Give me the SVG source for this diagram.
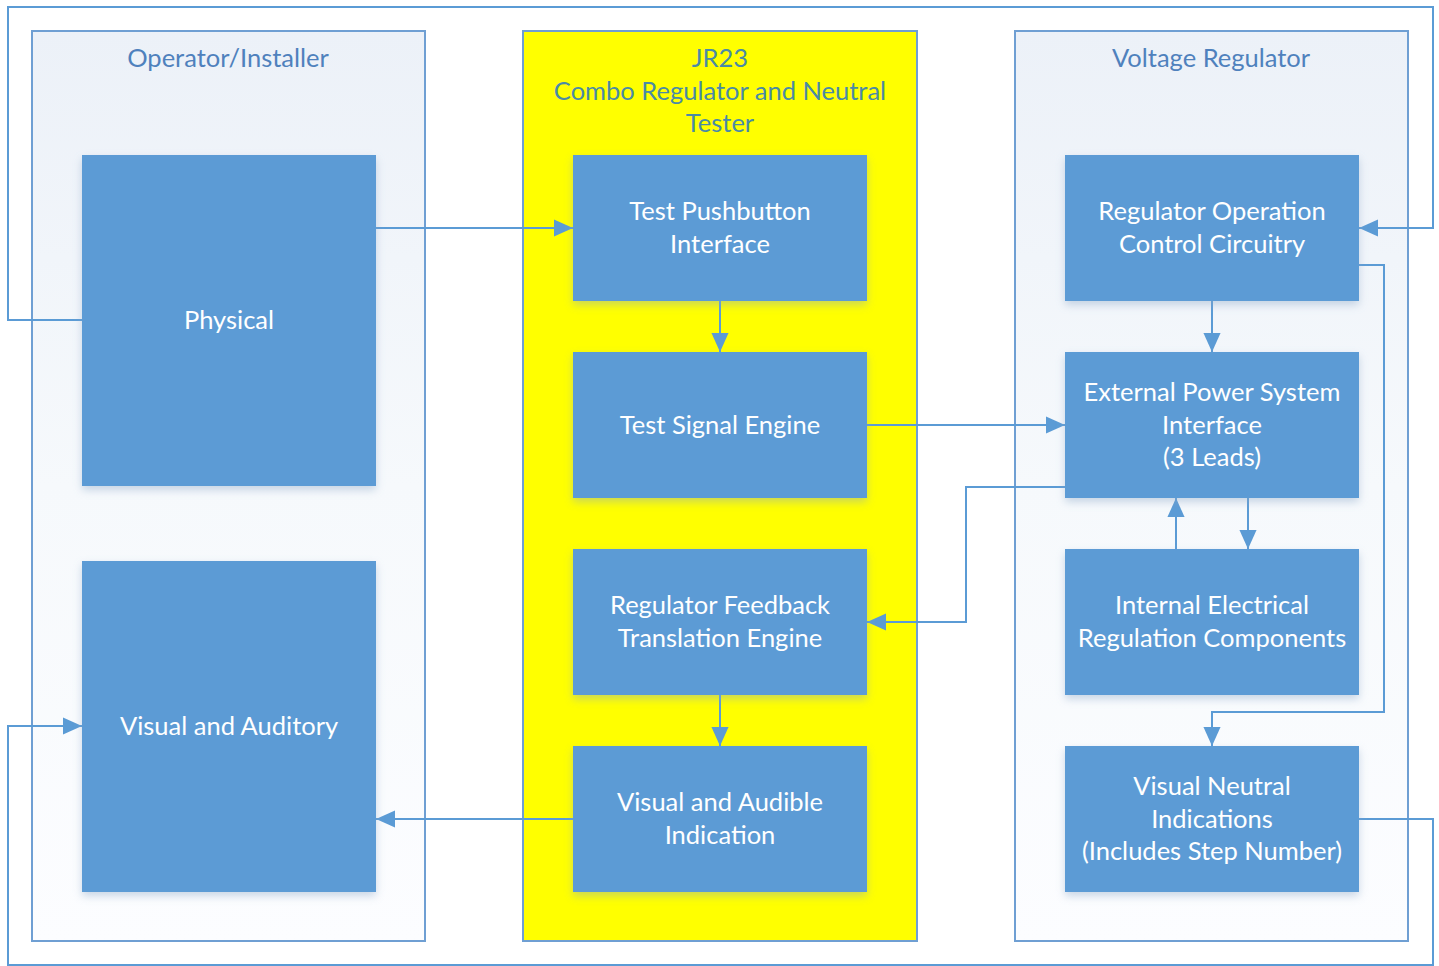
<svg xmlns="http://www.w3.org/2000/svg" width="1439" height="966" viewBox="0 0 1439 966">
<style>
.cont{stroke:#6f9fd3;stroke-width:2;fill:url(#cg)}
.node{fill:#5b9bd5;filter:url(#sh)}
.nt{font-family:Lato,"Open Sans",sans-serif;font-size:25.5px;fill:#ffffff;text-anchor:middle}
.ct{font-family:Lato,"Open Sans",sans-serif;font-size:25.5px;fill:#4f81bd;text-anchor:middle}
.cy{fill:#4a8aa6}
.conn{fill:none;stroke:#5b9bd5;stroke-width:2}
</style>
<defs>
<linearGradient id="cg" x1="0" y1="0" x2="0" y2="1">
<stop offset="0" stop-color="#ecf1f8"/>
<stop offset="0.5" stop-color="#f6f9fc"/>
<stop offset="1" stop-color="#fcfdff"/>
</linearGradient>
<filter id="sh" x="-10%" y="-10%" width="120%" height="130%">
<feDropShadow dx="0" dy="4" stdDeviation="4" flood-color="#8aa6c8" flood-opacity="0.45"/>
</filter>
<marker id="ah2" viewBox="0 0 10 10" refX="10" refY="5" markerWidth="19" markerHeight="19" markerUnits="userSpaceOnUse" orient="auto">
<path d="M0,0.5 L10,5 L0,9.5 Z" fill="#5b9bd5"/>
</marker>
</defs>
<rect width="1439" height="966" fill="#ffffff"/>
<g id="operator">
<rect class="cont" x="32" y="31" width="393" height="910"/>
<text class="ct" x="228" y="67">Operator/Installer</text>
</g>
<g id="jr23">
<rect x="523" y="31" width="394" height="910" fill="#ffff00" stroke="#6f9fd3" stroke-width="2"/>
<text class="ct cy" x="720" y="67">JR23</text>
<text class="ct cy" x="720" y="100">Combo Regulator and Neutral</text>
<text class="ct cy" x="720" y="132">Tester</text>
</g>
<g id="voltage-regulator">
<rect class="cont" x="1015" y="31" width="393" height="910"/>
<text class="ct" x="1211" y="67">Voltage Regulator</text>
</g>
<g id="connectors">
<path class="conn" d="M376,228 H573" marker-end="url(#ah2)"/>
<path class="conn" d="M720,301 V352" marker-end="url(#ah2)"/>
<path class="conn" d="M867,425 H1065" marker-end="url(#ah2)"/>
<path class="conn" d="M1065,487 H966 V622 H867" marker-end="url(#ah2)"/>
<path class="conn" d="M720,695 V746" marker-end="url(#ah2)"/>
<path class="conn" d="M573,819 H376" marker-end="url(#ah2)"/>
<path class="conn" d="M1212,301 V352" marker-end="url(#ah2)"/>
<path class="conn" d="M1176,549 V498" marker-end="url(#ah2)"/>
<path class="conn" d="M1248,498 V549" marker-end="url(#ah2)"/>
<path class="conn" d="M1359,265 H1384 V712 H1212 V746" marker-end="url(#ah2)"/>
<path class="conn" d="M82,320 H8 V7 H1433 V228 H1359" marker-end="url(#ah2)"/>
<path class="conn" d="M1359,819 H1433 V965 H8 V726 H82" marker-end="url(#ah2)"/>
</g>
<g id="physical">
<rect class="node" x="82" y="155" width="294" height="331"/>
<text class="nt" x="229" y="329">Physical</text>
</g>
<g id="visual-auditory">
<rect class="node" x="82" y="561" width="294" height="331"/>
<text class="nt" x="229" y="735">Visual and Auditory</text>
</g>
<g id="test-pushbutton">
<rect class="node" x="573" y="155" width="294" height="146"/>
<text class="nt" x="720" y="220">Test Pushbutton</text>
<text class="nt" x="720" y="253">Interface</text>
</g>
<g id="test-signal">
<rect class="node" x="573" y="352" width="294" height="146"/>
<text class="nt" x="720" y="434">Test Signal Engine</text>
</g>
<g id="regulator-feedback">
<rect class="node" x="573" y="549" width="294" height="146"/>
<text class="nt" x="720" y="614">Regulator Feedback</text>
<text class="nt" x="720" y="647">Translation Engine</text>
</g>
<g id="visual-audible">
<rect class="node" x="573" y="746" width="294" height="146"/>
<text class="nt" x="720" y="811">Visual and Audible</text>
<text class="nt" x="720" y="844">Indication</text>
</g>
<g id="regulator-operation">
<rect class="node" x="1065" y="155" width="294" height="146"/>
<text class="nt" x="1212" y="220">Regulator Operation</text>
<text class="nt" x="1212" y="253">Control Circuitry</text>
</g>
<g id="external-power">
<rect class="node" x="1065" y="352" width="294" height="146"/>
<text class="nt" x="1212" y="401">External Power System</text>
<text class="nt" x="1212" y="434">Interface</text>
<text class="nt" x="1212" y="466">(3 Leads)</text>
</g>
<g id="internal-electrical">
<rect class="node" x="1065" y="549" width="294" height="146"/>
<text class="nt" x="1212" y="614">Internal Electrical</text>
<text class="nt" x="1212" y="647">Regulation Components</text>
</g>
<g id="visual-neutral">
<rect class="node" x="1065" y="746" width="294" height="146"/>
<text class="nt" x="1212" y="795">Visual Neutral</text>
<text class="nt" x="1212" y="828">Indications</text>
<text class="nt" x="1212" y="860">(Includes Step Number)</text>
</g>
</svg>
